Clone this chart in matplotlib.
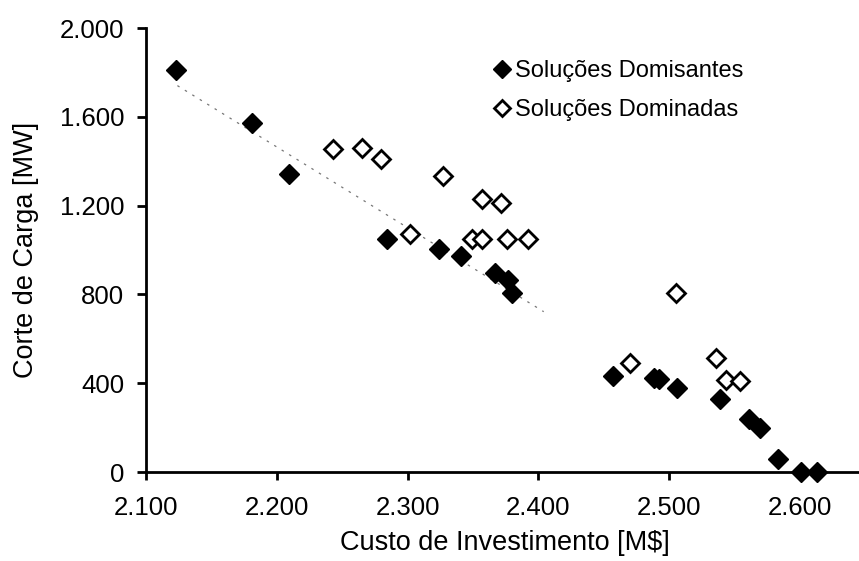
import matplotlib
matplotlib.use("Agg")
import matplotlib.pyplot as plt
import numpy as np

plt.rcParams['font.family'] = ['Liberation Sans', 'DejaVu Sans']

# Data (Custo de Investimento [M$], Corte de Carga [MW])
dom_x = [2123, 2181, 2209, 2284, 2324, 2341, 2367, 2377, 2380,
         2457, 2488, 2492, 2506, 2539, 2561, 2569, 2583, 2601, 2613]
dom_y = [1811, 1571, 1342, 1048, 1006, 975, 895, 865, 805,
         434, 425, 418, 380, 329, 239, 200, 57, 0, 0]

dmd_x = [2243, 2265, 2280, 2302, 2327, 2349, 2357, 2357, 2371, 2376, 2392,
         2470, 2505, 2536, 2543, 2554]
dmd_y = [1454, 1461, 1409, 1071, 1334, 1048, 1228, 1048, 1210, 1048, 1048,
         490, 808, 515, 414, 411]

# trend line range (fit of first cluster of dominant solutions)
trend_range = [2124, 2404]
trend_n = 9

x_ticks = [2100, 2200, 2300, 2400, 2500, 2600]
x_ticklabels = ["2.100", "2.200", "2.300", "2.400", "2.500", "2.600"]
y_ticks = [0, 400, 800, 1200, 1600, 2000]
y_ticklabels = ["0", "400", "800", "1.200", "1.600", "2.000"]

W, H = 859, 561
fig = plt.figure(figsize=(W / 100, H / 100), dpi=100)
ax = fig.add_axes([146 / W, 1 - 472 / H, (W - 146) / W, 444 / H])

coef = np.polyfit(dom_x[:trend_n], dom_y[:trend_n], 1)
tx = np.array(trend_range)
ax.plot(tx, np.polyval(coef, tx), color='#777777', lw=0.9,
        linestyle=(0, (2, 5)), zorder=1)

ax.plot(dmd_x, dmd_y, linestyle='none', marker='D', markersize=9,
        markerfacecolor='white', markeredgecolor='black', markeredgewidth=2,
        label='Soluções Dominadas', zorder=3, clip_on=False)
ax.plot(dom_x, dom_y, linestyle='none', marker='D', markersize=10,
        markerfacecolor='black', markeredgecolor='black', markeredgewidth=1,
        label='Soluções Domisantes', zorder=4, clip_on=False)

ax.set_xlim(2100, 2645)
ax.set_ylim(0, 2000)
ax.set_xticks(x_ticks)
ax.set_xticklabels(x_ticklabels)
ax.set_yticks(y_ticks)
ax.set_yticklabels(y_ticklabels)

for s in ['top', 'right']:
    ax.spines[s].set_visible(False)
for s in ['left', 'bottom']:
    ax.spines[s].set_linewidth(2)
    ax.spines[s].set_color('black')

ax.tick_params(axis='y', direction='out', length=6.5, width=2, pad=9,
               labelsize=18.5)
ax.tick_params(axis='x', direction='out', length=6, width=2, pad=11,
               labelsize=18.5)

ax.set_xlabel('Custo de Investimento [M$]', fontsize=19.5)
ax.set_ylabel('Corte de Carga [MW]', fontsize=19.5)
ax.xaxis.set_label_coords((505 - 146) / (W - 146), -(530 - 472) / 444)
ax.yaxis.set_label_coords(-(146 - 39) / (W - 146), 0.5)

handles, labels = ax.get_legend_handles_labels()
leg = ax.legend(handles[::-1], labels[::-1], loc='upper left',
                bbox_to_anchor=((493 - 146) / (W - 146), (472 - 60) / 444),
                frameon=False, fontsize=17, markerscale=0.88,
                handlelength=0.8, handletextpad=0.15, labelspacing=0.72,
                borderpad=0, borderaxespad=0)

fig.savefig('out.png', dpi=100)
